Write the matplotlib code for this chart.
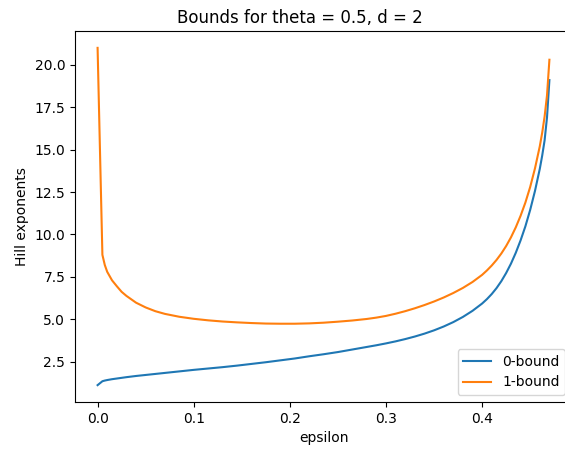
import matplotlib
matplotlib.use("Agg")
import matplotlib.pyplot as plt

epsilon = [0.0, 0.005, 0.0075, 0.01, 0.015, 0.02, 0.025, 0.03, 0.04, 0.05, 0.06,
           0.07, 0.085, 0.10, 0.115, 0.13, 0.145, 0.16, 0.175, 0.19, 0.205, 0.22,
           0.235, 0.25, 0.265, 0.28, 0.29, 0.30, 0.31, 0.32, 0.33, 0.34, 0.35,
           0.36, 0.37, 0.38, 0.39, 0.40, 0.405, 0.41, 0.415, 0.42, 0.425, 0.43,
           0.435, 0.44, 0.445, 0.45, 0.455, 0.46, 0.4625, 0.465, 0.4675, 0.47]

bound0 = [1.12, 1.35, 1.39, 1.42, 1.47, 1.51, 1.55, 1.59, 1.66, 1.72, 1.78,
          1.84, 1.93, 2.02, 2.10, 2.18, 2.27, 2.37, 2.47, 2.58, 2.69, 2.82,
          2.94, 3.07, 3.22, 3.37, 3.47, 3.58, 3.70, 3.835, 3.985, 4.155, 4.35,
          4.575, 4.835, 5.14, 5.50, 5.93, 6.19, 6.49, 6.84, 7.25, 7.73, 8.28,
          8.92, 9.65, 10.48, 11.45, 12.57, 13.87, 14.65, 15.55, 16.90, 19.10]

bound1 = [21.0, 8.80, 8.20, 7.80, 7.30, 6.95, 6.62, 6.38, 5.98, 5.70, 5.48,
          5.32, 5.15, 5.03, 4.94, 4.87, 4.82, 4.78, 4.75, 4.74, 4.74, 4.76,
          4.80, 4.86, 4.93, 5.02, 5.10, 5.20, 5.33, 5.48, 5.65, 5.84, 6.05,
          6.285, 6.55, 6.85, 7.20, 7.62, 7.88, 8.17, 8.50, 8.88, 9.32, 9.83,
          10.42, 11.10, 11.88, 12.80, 13.90, 15.20, 16.00, 16.95, 18.20, 20.30]

labels = ["0-bound", "1-bound"]
title = "Bounds for theta = 0.5, d = 2"

fig = plt.figure(figsize=(5.65, 4.5), dpi=100)
ax = fig.add_axes([75 / 565, 48 / 450, 497 / 565, 371 / 450])
ax.plot(epsilon, bound0, label=labels[0])
ax.plot(epsilon, bound1, label=labels[1])
ax.set_xlabel("epsilon")
ax.set_ylabel("Hill exponents")
ax.set_title(title, x=(300 - 75) / 497)
ax.legend(loc="lower right")
fig.savefig("out.png", dpi=100)
